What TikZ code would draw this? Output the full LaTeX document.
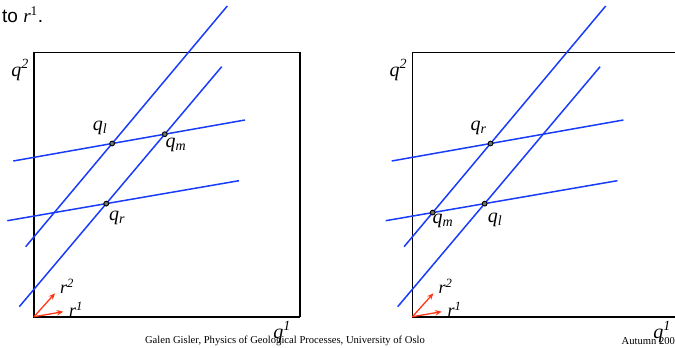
\documentclass[tikz,border=0pt]{standalone}
\usepackage{fontspec}
\setmainfont{Liberation Serif}
\newfontfamily\sansf{Liberation Sans}
\usetikzlibrary{arrows.meta}
\definecolor{lineblue}{RGB}{25,60,250}
\definecolor{arrred}{RGB}{255,55,20}
\tikzset{
  blueline/.style={draw=lineblue,line width=1.5pt},
  boxline/.style={draw=black,line width=1.6pt},
  rarrow/.style={draw=arrred,line width=1.3pt,-{Stealth[length=6.5pt,width=5.5pt]}},
  dot/.style={circle,draw=black,fill=black!55,line width=0.9pt,inner sep=0pt,minimum size=4.8pt},
  qlab/.style={font=\fontsize{20}{22}\selectfont\itshape,inner sep=0pt},
  rlab/.style={font=\fontsize{18}{20}\selectfont\itshape,inner sep=0pt},
  foot/.style={font=\fontsize{10.6}{12}\selectfont,inner sep=0pt}
}
\begin{document}
\begin{tikzpicture}[x=1pt,y=-1pt]
\useasboundingbox (0,0) rectangle (675,348);
% footer
\node[foot] (footer) at (285,341) {Galen Gisler, Physics of Geological Processes, University of Oslo};
\node[foot,anchor=west] (autumn) at (621.5,341) {Autumn 200};
% heading fragment
\node[anchor=base west,inner sep=0pt,font=\fontsize{19}{22}\selectfont] (head) at (2,22)
  {\sansf to {\rmfamily\itshape r}\textsuperscript{\rmfamily 1}.};
\foreach \p/\s in {L/0,R/378.4}{
  \begin{scope}[xshift=\s pt]
    \coordinate (\p o) at (34,316.7);
    \draw[boxline] (34,52.3) -- (\p o) -- (300,316.7);
    \draw[boxline] (34,52.3) -- (300,52.3) -- (300,316.7);
    \coordinate (\p s1a) at (25.7,246.7);
    \coordinate (\p s1b) at (227.3,6);
    \coordinate (\p s2a) at (19.3,306.7);
    \coordinate (\p s2b) at (221.7,66.7);
    \coordinate (\p h1a) at (13.3,161);
    \coordinate (\p h1b) at (245,120);
    \coordinate (\p h2a) at (7.3,220.7);
    \coordinate (\p h2b) at (239,180.7);
    \draw[blueline] (\p s1a) -- (\p s1b);
    \draw[blueline] (\p s2a) -- (\p s2b);
    \draw[blueline] (\p h1a) -- (\p h1b);
    \draw[blueline] (\p h2a) -- (\p h2b);
    \coordinate (\p r1) at (63.3,311.7);
    \coordinate (\p r2) at (55,293.3);
    \draw[rarrow] (\p o) -- (\p r1);
    \draw[rarrow] (\p o) -- (\p r2);
    \node[rlab] (\p r1lab) at (76,309.5) {r\textsuperscript{1}};
    \node[rlab] (\p r2lab) at (67,286) {r\textsuperscript{2}};
    \node[qlab] (\p q2lab) at (20,70) {q\textsuperscript{2}};
  \end{scope}
}
% left panel points
\node[dot] (Lql) at (intersection of Ls1a--Ls1b and Lh1a--Lh1b) {};
\node[dot] (Lqm) at (intersection of Ls2a--Ls2b and Lh1a--Lh1b) {};
\node[dot] (Lqr) at (intersection of Ls2a--Ls2b and Lh2a--Lh2b) {};
\node[qlab] (Lqllab) at (100,128) {q\textsubscript{l}};
\node[qlab] (Lqmlab) at (176,145) {q\textsubscript{m}};
\node[qlab] (Lqrlab) at (117,218) {q\textsubscript{r}};
\node[qlab] (Lq1lab) at (282,332) {q\textsuperscript{1}};
% right panel points
\node[dot] (Rqr) at (intersection of Rs1a--Rs1b and Rh1a--Rh1b) {};
\node[dot] (Rql) at (intersection of Rs2a--Rs2b and Rh2a--Rh2b) {};
\node[dot] (Rqm) at (intersection of Rs1a--Rs1b and Rh2a--Rh2b) {};
\node[qlab] (Rqrlab) at (478.5,128) {q\textsubscript{r}};
\node[qlab] (Rqllab) at (495,220) {q\textsubscript{l}};
\node[qlab] (Rqmlab) at (443,221) {q\textsubscript{m}};
\node[qlab] (Rq1lab) at (662,332) {q\textsuperscript{1}};
\end{tikzpicture}
\end{document}
